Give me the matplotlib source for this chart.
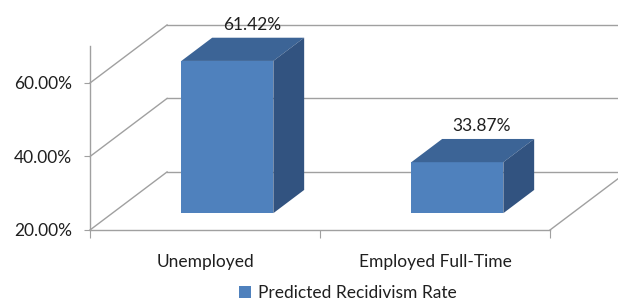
import matplotlib
matplotlib.use("Agg")
import matplotlib.pyplot as plt
from matplotlib.patches import Polygon, Patch
import numpy as np

# chart data
categories = ["Unemployed", "Employed Full-Time"]
values = [61.42, 33.87]
value_labels = ["61.42%", "33.87%"]
y_ticks = [20, 40, 60]
y_tick_labels = ["20.00%", "40.00%", "60.00%"]
series_name = "Predicted Recidivism Rate"

# look of the fake 3d box
depth_x = 0.335    # full floor depth, in category units
depth_y = 15.8     # full floor depth, in percent units
bar_d0, bar_d1 = 0.29, 0.69
bar_w = 0.40
front_col = "#4F81BD"
top_col = "#3C6496"
side_col = "#325380"
grid_col = "#A0A0A0"
text_col = "#1F1F1F"

plt.rcParams["font.family"] = ["Lato", "DejaVu Sans"]

fig = plt.figure(figsize=(6.18, 3.0), dpi=100)
ax = fig.add_axes([90 / 618, 70 / 300, 460 / 618, 183.75 / 300])
ax.set_xlim(-0.5, 1.5)
ax.set_ylim(20, 70)

# walls: back gridlines, side wall diagonals, floor right edge
for t in y_ticks:
    ax.plot([-0.5 + depth_x, 1.5 + depth_x + 0.2], [t + depth_y, t + depth_y],
            color=grid_col, lw=1.0, clip_on=False, zorder=1)
    ax.plot([-0.5, -0.5 + depth_x], [t, t + depth_y],
            color=grid_col, lw=1.0, clip_on=False, zorder=1)
ax.plot([1.5, 1.5 + depth_x], [20, 20 + depth_y], color=grid_col, lw=1.0,
        clip_on=False, zorder=1)

# bars
x = np.arange(len(categories))
fx0 = x - bar_w / 2 + bar_d0 * depth_x
base = 20 + bar_d0 * depth_y
vals = np.array(values)
ax.bar(fx0, vals - 20, bottom=base, width=bar_w, align="edge",
       color=front_col, zorder=3, linewidth=0)
ddx = (bar_d1 - bar_d0) * depth_x
ddy = (bar_d1 - bar_d0) * depth_y
for i in range(len(categories)):
    top = vals[i] + bar_d0 * depth_y
    left = fx0[i]
    right = fx0[i] + bar_w
    ax.add_patch(Polygon([(left, top), (right, top), (right + ddx, top + ddy),
                          (left + ddx, top + ddy)], closed=True,
                         facecolor=top_col, edgecolor="none", zorder=3,
                         clip_on=False))
    ax.add_patch(Polygon([(right, base), (right, top), (right + ddx, top + ddy),
                          (right + ddx, base + ddy)], closed=True,
                         facecolor=side_col, edgecolor="none", zorder=3,
                         clip_on=False))
    ax.annotate(value_labels[i], (x[i] + 0.61 * depth_x, vals[i] + bar_d1 * depth_y),
                xytext=(0, 9), textcoords="offset points", ha="center",
                va="center", fontsize=12.5, color=text_col, zorder=5,
                annotation_clip=False)

# axes
for s in ["top", "right"]:
    ax.spines[s].set_visible(False)
for s in ["left", "bottom"]:
    ax.spines[s].set_color(grid_col)
    ax.spines[s].set_linewidth(1.0)
ax.set_yticks(y_ticks)
ax.set_yticklabels(y_tick_labels)
ax.tick_params(axis="y", length=4, color=grid_col, pad=9, labelsize=12.5,
               labelcolor=text_col)
ax.set_xticks([-0.5, 0.5, 1.5])
ax.set_xticklabels([])
ax.tick_params(axis="x", which="major", length=6, color=grid_col)
ax.set_xticks(x, minor=True)
ax.set_xticklabels(categories, minor=True)
ax.tick_params(axis="x", which="minor", length=0, pad=17, labelsize=12.5,
               labelcolor=text_col)
ax.patch.set_visible(False)

fig.legend(handles=[Patch(facecolor=front_col, edgecolor="none")],
           labels=[series_name], loc="center", bbox_to_anchor=(348 / 618, 1 - 293 / 300),
           frameon=False, fontsize=12.5, handlelength=0.7, handleheight=0.7,
           handletextpad=0.4, labelcolor=text_col)

fig.savefig("out.png", dpi=100)
